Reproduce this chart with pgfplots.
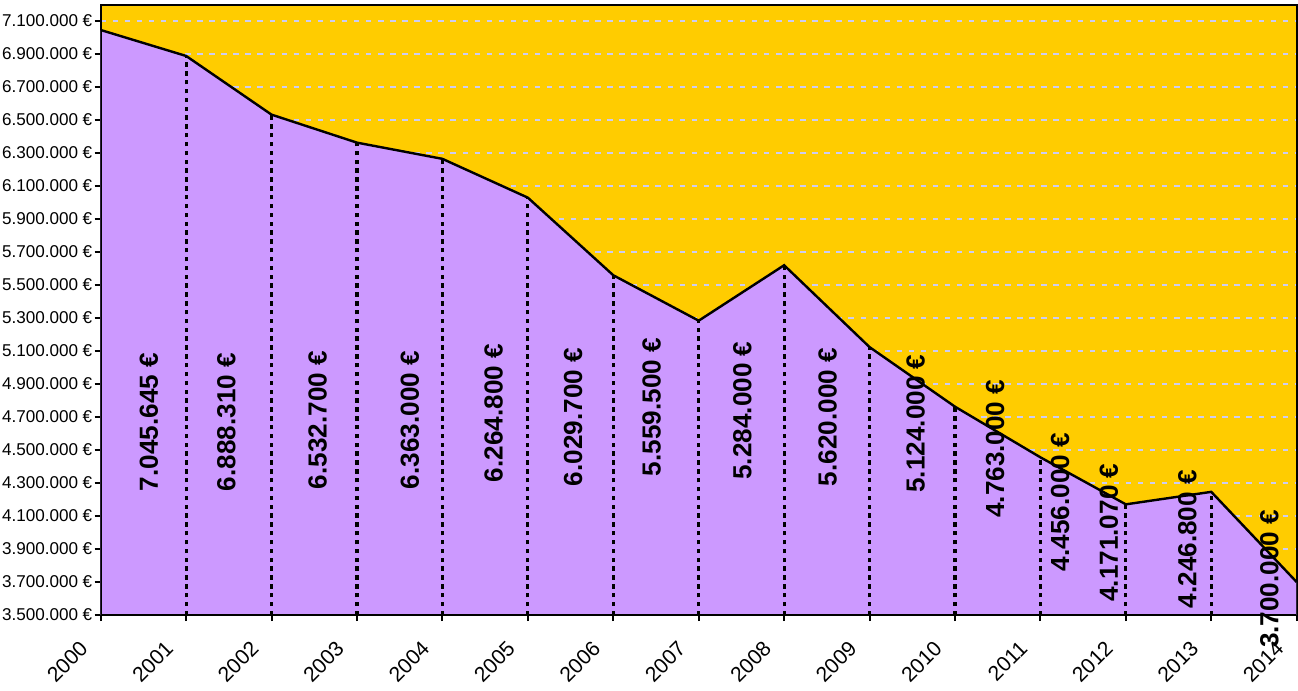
\documentclass[border=0pt]{standalone}
\usepackage{fontspec}
\setmainfont{Liberation Sans}
\usepackage{pgfplots}
\pgfplotsset{compat=1.18}
\definecolor{bgorange}{HTML}{FFCC00}
\definecolor{areaviolet}{HTML}{CC99FF}
\definecolor{gridlav}{HTML}{CCCCF2}

\begin{document}
\begin{tikzpicture}
\begin{axis}[
  scale only axis, width=595pt, height=303.5pt,
  xmin=2000, xmax=2014, ymin=3500000, ymax=7197000,
  axis background/.style={fill=bgorange},
  /pgf/number format/assume math mode=true,
  xtick={2000,2001,2002,2003,2004,2005,2006,2007,2008,2009,2010,2011,2012,2013,2014},
  xticklabel style={/pgf/number format/1000 sep={}, font=\fontsize{10.5}{11}\selectfont,
    anchor=north east, inner sep=0pt, xshift=-11pt, yshift=-9pt, rotate=45},
  ytick={3500000,3700000,3900000,4100000,4300000,4500000,4700000,4900000,5100000,
         5300000,5500000,5700000,5900000,6100000,6300000,6500000,6700000,6900000,7100000},
  yticklabels={3.500.000 €,3.700.000 €,3.900.000 €,4.100.000 €,4.300.000 €,4.500.000 €,
    4.700.000 €,4.900.000 €,5.100.000 €,5.300.000 €,5.500.000 €,5.700.000 €,5.900.000 €,
    6.100.000 €,6.300.000 €,6.500.000 €,6.700.000 €,6.900.000 €,7.100.000 €},
  yticklabel style={font=\fontsize{8.5}{9}\selectfont, inner sep=1pt},
  scaled y ticks=false,
  ymajorgrids, grid style={gridlav, line width=1.3pt, dash pattern=on 2.7pt off 3.3pt},
  tick align=outside, xtick pos=bottom, ytick pos=left, major tick length=3pt,
  tick style={black, line width=1pt},
  axis line style={black, line width=1pt},
]
% area
\addplot[fill=areaviolet, draw=none] coordinates {
  (2000,7045645) (2001,6888310) (2002,6532700) (2003,6363000) (2004,6264800)
  (2005,6029700) (2006,5559500) (2007,5284000) (2008,5620000) (2009,5124000)
  (2010,4763000) (2011,4456000) (2012,4171070) (2013,4246800) (2014,3700000)
} \closedcycle;
% dashed drop lines
\addplot[ycomb, black, line width=1.6pt, dash pattern=on 2.2pt off 2.2pt] coordinates {
  (2001,6888310) (2002,6532700) (2003,6363000) (2004,6264800) (2005,6029700)
  (2006,5559500) (2007,5284000) (2008,5620000) (2009,5124000) (2010,4763000)
  (2011,4456000) (2012,4171070) (2013,4246800)
};
% outline
\addplot[black, line width=1.2pt] coordinates {
  (2000,7045645) (2001,6888310) (2002,6532700) (2003,6363000) (2004,6264800)
  (2005,6029700) (2006,5559500) (2007,5284000) (2008,5620000) (2009,5124000)
  (2010,4763000) (2011,4456000) (2012,4171070) (2013,4246800) (2014,3700000)
};
% value labels
\addplot[draw=none, nodes near coords, point meta=explicit symbolic,
  every node near coord/.append style={rotate=90, anchor=center, inner sep=0pt,
    font=\fontsize{13}{14}\selectfont\bfseries, text=black}]
  coordinates {
  (2000.565,4669700)[7.045.645 €] (2001.47,4669700)[6.888.310 €]
  (2002.54,4681900)[6.532.700 €] (2003.62,4681900)[6.363.000 €]
  (2004.60,4724500)[6.264.800 €] (2005.53,4700100)[6.029.700 €]
  (2006.45,4761000)[5.559.500 €] (2007.51,4739700)[5.284.000 €]
  (2008.51,4700100)[5.620.000 €] (2009.54,4660500)[5.124.000 €]
  (2010.47,4508200)[4.763.000 €] (2011.23,4185400)[4.456.000 €]
  (2011.80,3999600)[4.171.070 €] (2012.72,3959900)[4.246.800 €]
  (2013.68,3719300)[3.700.000 €]
};
\draw[black, line width=1pt] (rel axis cs:0,0) rectangle (rel axis cs:1,1);
\coordinate (bl) at (rel axis cs:0,0);
\coordinate (tl) at (rel axis cs:0,1);
\end{axis}
\path ([yshift=-37.5pt]bl) ([yshift=2.5pt]tl);
\end{tikzpicture}
\end{document}
